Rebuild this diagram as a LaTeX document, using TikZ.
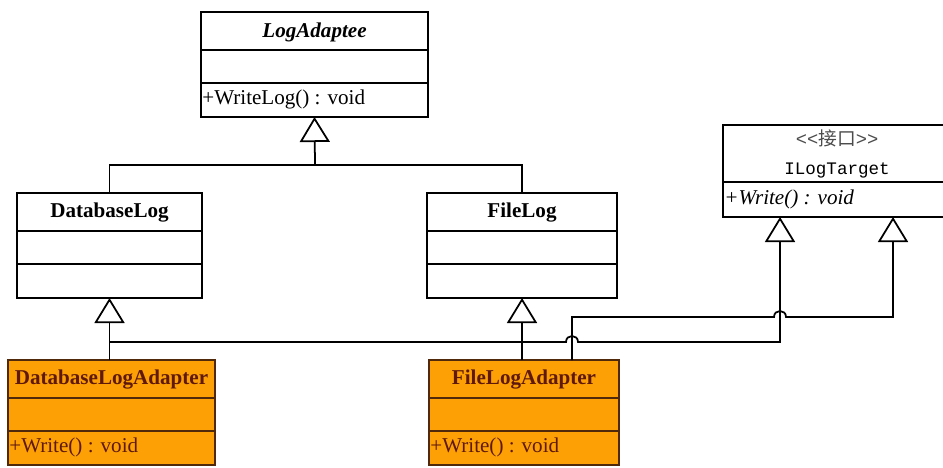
\documentclass[tikz,border=0pt]{standalone}
\usepackage{fontspec}
\setmainfont{Liberation Serif}
\setmonofont{Liberation Mono}
\newfontfamily\cjk{Noto Sans CJK SC}
\usetikzlibrary{arrows.meta}

\definecolor{orangefill}{RGB}{253,160,5}
\definecolor{brownline}{RGB}{80,40,10}
\definecolor{browntext}{RGB}{95,25,10}

\tikzset{
  cls/.style={draw=black, fill=white, line width=1.5pt, minimum height=3.15cm, inner sep=0pt, outer sep=0pt},
  cls line/.style={draw=black, line width=1.5pt},
  cls title/.style={font=\fontsize{18}{20}\selectfont\bfseries, text=black, inner sep=0pt},
  cls ops/.style={font=\fontsize{18}{20}\selectfont, text=black, inner sep=1pt},
  adapter/.style={cls, draw=brownline, fill=orangefill},
  adapter line/.style={cls line, draw=brownline},
  adapter title/.style={cls title, text=browntext},
  adapter ops/.style={cls ops, text=browntext},
  inherit/.style={draw=black, line width=1.5pt, -{Triangle[open, length=0.75cm, width=0.9cm]}},
  plain/.style={draw=black, line width=1.5pt}
}

% class box: [style]{name}{north west corner}{width}{title}{operation}
\newcommand{\umlclass}[6][cls]{%
  \node[#1, minimum width=#4, anchor=north west] (#2) at #3 {};
  \draw[#1 line] ([yshift=-1.14cm]#2.north west) -- ([yshift=-1.14cm]#2.north east)
                 ([yshift=-2.13cm]#2.north west) -- ([yshift=-2.13cm]#2.north east);
  \node[#1 title] (#2 name) at ([yshift=-0.6cm]#2.north) {#5};
  \node[#1 ops, anchor=west] (#2 ops) at ([yshift=0.52cm]#2.south west) {#6};
}

\begin{document}
\begin{tikzpicture}[x=0.03cm, y=-0.03cm]
  \path[use as bounding box] (0,0) rectangle (943,467);
  \clip (0,0) rectangle (943,467);

  \umlclass{adaptee}{(201,12)}{6.81cm}{\textit{LogAdaptee}}{+WriteLog() : void}
  \umlclass{dblog}{(17,193)}{5.55cm}{DatabaseLog}{}
  \umlclass{filelog}{(427,193)}{5.7cm}{FileLog}{}
  \umlclass[adapter]{dbadapter}{(8,360)}{6.21cm}{DatabaseLogAdapter}{+Write() : void}
  \umlclass[adapter]{fileadapter}{(429,360)}{5.7cm}{FileLogAdapter}{+Write() : void}

  % interface
  \node[cls, minimum width=6.84cm, minimum height=2.76cm, anchor=north west] (target) at (723,125) {};
  \draw[cls line] ([yshift=-1.71cm]target.north west) -- ([yshift=-1.71cm]target.north east);
  \node[font=\fontsize{16}{18}\selectfont, text=black!70, inner sep=0pt] (target stereo)
       at ([yshift=-0.4cm]target.north) {\ttfamily<<{\cjk 接口}>>};
  \node[font=\fontsize{15}{17}\selectfont\ttfamily, inner sep=0pt] (target name)
       at ([yshift=-1.35cm]target.north) {ILogTarget};
  \node[cls ops, anchor=west] (target ops) at ([yshift=0.53cm]target.south west) {\textit{+Write() : void}};

  % generalisation
  \coordinate (join) at (315,165);
  \draw[inherit] (join) -- (adaptee.south);
  \draw[plain] (dblog.north) |- (join) -| (filelog.north);
  \draw[inherit] (dbadapter.north -| dblog.south) -- (dblog.south);
  \draw[inherit] (fileadapter.north -| filelog.south) -- (filelog.south);

  % realisation
  \coordinate (dbfork) at (110,342);
  \coordinate (faout) at (572,360);
  \coordinate (tgtL) at ([xshift=1.71cm]target.south west);
  \coordinate (tgtR) at ([xshift=5.1cm]target.south west);
  \draw[inherit] (dbfork) -- (566,342) .. controls (566,334) and (578,334) .. (578,342) -| (tgtL);
  \draw[inherit] (faout) |- (774,317) .. controls (774,309) and (786,309) .. (786,317) -| (tgtR);
\end{tikzpicture}
\end{document}
